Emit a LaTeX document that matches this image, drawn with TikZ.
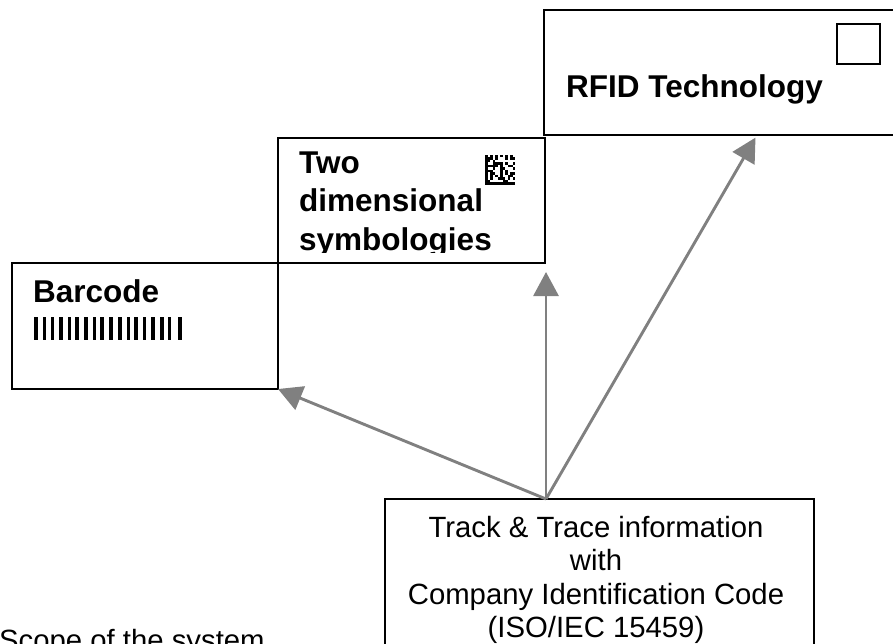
\documentclass[tikz,border=0pt]{standalone}
\usepackage{fontspec}
\setmainfont{Liberation Sans}
\usetikzlibrary{
        arrows.meta,
        positioning
    }
\tikzset{box/.style={draw,rectangle,line width=1.8pt,inner sep=0pt,outer sep=0pt,anchor=north west}}
\tikzset{link/.style={draw={rgb,255:red,128;green,128;blue,128},line width=2.9pt,-{Triangle[length=24pt,width=25pt]}}}
\tikzset{title/.style={font=\bfseries\fontsize{31.5}{38.5}\selectfont,inner sep=0pt,anchor=base west,align=left}}
\tikzset{plain/.style={font=\fontsize{29.3}{33.5}\selectfont,inner sep=0pt}}

\begin{document}
\begin{tikzpicture}[x=1pt,y=-1pt]
                \useasboundingbox (0,0) rectangle (893,644);
                \node[box,minimum width=266pt,minimum height=126pt] (barcode) at (12,263) {};
                \node[box,minimum width=267pt,minimum height=125pt] (twod)    at (278,138) {};
                \node[box,minimum width=360pt,minimum height=125pt] (rfid)    at (544,10)  {};
                \node[box,minimum width=429pt,minimum height=180pt] (track)   at (385,499) {};
                \node[box,minimum width=43pt,minimum height=40pt]   (tag)     at (837,24)  {};
                % labels (base = last line)
                \node[title] (barcodetext) at (33,302) {Barcode};
                \node[title] (rfidtext)    at (566,98) {RFID Technology};
                \begin{scope}
                    \clip (278,138) rectangle (545,252);
                    \node[title] (twodtext) at (299,250) {Two\\dimensional\\symbologies};
                \end{scope}
                \node[plain,align=center,anchor=base] (tracktext) at (596,637.5)
                    {Track \& Trace information\\with\\Company Identification Code\\(ISO/IEC 15459)};
                \node[plain,anchor=base west] (scope) at (-1,650) {Scope of the system};
                % barcode bars
                \foreach \bx/\bw in {34/4,43/3,51/3,59/4,68/2.5,75/4,84/4,93/2.5,100/4,
                                     109/4,118/4,127/2.5,134/4,143/3,151/4,160/4,168/2.5,178/4}
                    \fill (\bx,317) rectangle ++(\bw,23);
                % two dimensional code
                \pgfmathsetseed{11}
                \foreach \i in {0,...,11} {
                    \fill (485,155+2.5*\i) rectangle ++(2.5,2.5);
                    \fill (485+2.5*\i,182.5) rectangle ++(2.5,2.5);
                }
                \foreach \i in {0,2,...,10} {
                    \fill (485+2.5*\i,155) rectangle ++(2.5,2.5);
                    \fill (512.5,157.5+2.5*\i) rectangle ++(2.5,2.5);
                }
                \foreach \i in {1,...,10}
                    \foreach \j in {1,...,10} {
                        \pgfmathtruncatemacro\bit{rnd>0.5}
                        \ifnum\bit=1 \fill (485+2.5*\i,155+2.5*\j) rectangle ++(2.5,2.5); \fi
                    }
                % arrows
                \coordinate (src) at (546,499);
                \draw[link] (src) -- (barcode.south east);
                \draw[link,shorten >=9pt] (src) -- (src |- twod.south);
                \draw[link,shorten >=3pt] (src) -- ([xshift=213pt]rfid.south west);
            \end{tikzpicture}
\end{document}
